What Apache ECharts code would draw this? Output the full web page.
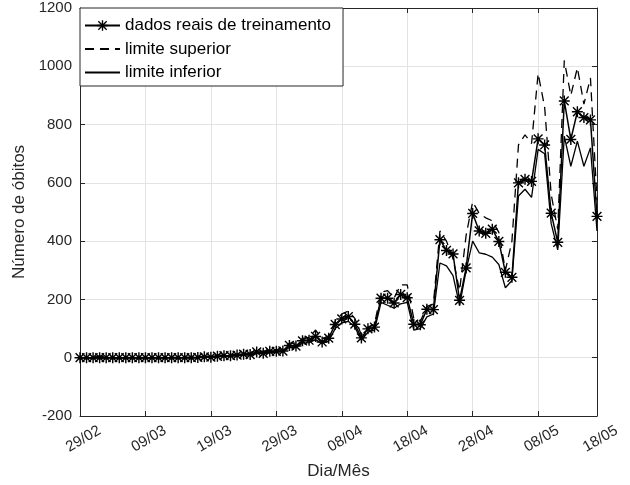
<!DOCTYPE html>
<html>
<head>
<meta charset="utf-8">
<script src="https://cdn.jsdelivr.net/npm/echarts@6/dist/echarts.min.js"></script>
<style>
  html, body { margin: 0; padding: 0; background: #fff; }
  #chart { width: 630px; height: 485px; }
</style>
</head>
<body>
<div id="chart"></div>
<script>
// Day index of each tick on the time axis and the label drawn there
const tickPositions = [0, 10, 20, 30, 40, 50, 60, 70, 79];
const tickLabels = ['29/02', '09/03', '19/03', '29/03', '08/04', '18/04', '28/04', '08/05', '18/05'];

// Daily deaths used for training (one value per day)
const observed = [
  0, 0, 0, 0, 0, 0, 0, 0, 0, 0, 0, 0, 0, 0, 0, 0, 0, 0,
  1, 3, 2, 5, 7, 7, 9, 12, 11, 20, 15, 22, 22, 23, 42, 40, 58, 60, 73, 54,
  67, 114, 133, 141, 115, 68, 99, 105, 204, 204, 188, 217, 206, 115, 113, 166, 165, 405, 368, 356,
  197, 308, 495, 435, 427, 441, 399, 293, 276, 600, 612, 605, 751, 730, 496, 396, 881, 749, 844, 824, 816, 485
];

// Upper limit of the model band
const upperBound = [
  0, 1, 2, 6, 3, 1, 0, 1, 0, 1, 0, 0, 1, 0, 1, 1, 2, 2,
  3, 5, 5, 8, 10, 10, 12, 15, 16, 24, 22, 27, 28, 30, 50, 50, 66, 70, 95, 65,
  75, 125, 150, 160, 135, 78, 105, 115, 225, 230, 205, 250, 250, 135, 125, 175, 185, 435, 400, 340,
  230, 420, 535, 495, 480, 470, 430, 300, 400, 730, 765, 735, 975, 860, 560, 440, 1020, 900, 995, 870, 960, 540
];

// Lower limit of the model band
const lowerBound = [
  0, -1, 0, -2, 0, 0, -1, 0, 0, 0, -1, 0, 0, 0, 0, 0, 0, 0,
  0, 2, 1, 3, 5, 5, 7, 9, 9, 16, 13, 18, 18, 20, 35, 35, 50, 52, 62, 48,
  58, 100, 120, 125, 105, 60, 88, 95, 190, 180, 170, 185, 190, 95, 100, 140, 150, 325, 315, 282,
  180, 300, 400, 360, 355, 345, 320, 240, 265, 555, 578, 550, 715, 700, 460, 370, 760, 657, 743, 657, 720, 435
];

const seriesNames = ['dados reais de treinamento', 'limite superior', 'limite inferior'];

const FONT = "'Liberation Sans', Arial, Helvetica, sans-serif";
const INK = '#262626';

// Eight-armed asterisk marker built from four thin bars
const ASTERISK = 'path://M8.7,0L11.3,0L11.3,20L8.7,20Z' +
  'M0,8.7L20,8.7L20,11.3L0,11.3Z' +
  'M2.9,1.1L18.9,17.1L17.1,18.9L1.1,2.9Z' +
  'M17.1,1.1L18.9,2.9L2.9,18.9L1.1,17.1Z';

const toPairs = arr => arr.map((v, i) => [i, v]);

const chart = echarts.init(document.getElementById('chart'), null, { renderer: 'canvas' });

const xMin = tickPositions[0];
const xMax = tickPositions[tickPositions.length - 1];

chart.setOption({
  animation: false,
  backgroundColor: '#fff',
  textStyle: { fontFamily: FONT },
  grid: { left: 80, right: 33, top: 8, bottom: 67, containLabel: false },
  legend: {
    data: [
      { name: seriesNames[0] },
      { name: seriesNames[1], itemStyle: { opacity: 0 } },
      { name: seriesNames[2], itemStyle: { opacity: 0 } }
    ],
    orient: 'vertical',
    left: 80,
    top: 8,
    padding: [9, 12, 5, 4],
    itemWidth: 35,
    itemHeight: 13,
    itemGap: 6.5,
    backgroundColor: '#fff',
    borderColor: INK,
    borderWidth: 1,
    borderRadius: 0,
    textStyle: { fontSize: 17, color: '#000', fontFamily: FONT }
  },
  xAxis: [
    {
      type: 'value',
      min: xMin,
      max: xMax,
      interval: 10,
      name: 'Dia/Mês',
      nameLocation: 'middle',
      nameGap: 47,
      nameTextStyle: { fontSize: 17, color: INK, fontFamily: FONT },
      axisLine: { show: true, onZero: false, lineStyle: { color: INK, width: 1 } },
      axisTick: { show: true, inside: true, length: 5, lineStyle: { color: INK } },
      axisLabel: {
        rotate: 30,
        margin: 25,
        align: 'center',
        verticalAlign: 'middle',
        padding: [0, 0, 0, 8],
        fontSize: 15,
        color: INK,
        fontFamily: FONT,
        formatter: v => {
          const k = tickPositions.indexOf(Math.round(v));
          return k >= 0 ? tickLabels[k] : '';
        }
      },
      splitLine: { show: true, lineStyle: { color: '#e3e3e3', width: 1 } }
    },
    {
      type: 'value',
      position: 'top',
      min: xMin,
      max: xMax,
      interval: 10,
      axisLine: { show: true, onZero: false, lineStyle: { color: INK, width: 1 } },
      axisTick: { show: true, inside: true, length: 5, lineStyle: { color: INK } },
      axisLabel: { show: false },
      splitLine: { show: false }
    }
  ],
  yAxis: [
    {
      type: 'value',
      min: -200,
      max: 1200,
      interval: 200,
      name: 'Número de óbitos',
      nameLocation: 'middle',
      nameGap: 37,
      nameTextStyle: { fontSize: 17, color: INK, fontFamily: FONT },
      axisLine: { show: true, onZero: false, lineStyle: { color: INK, width: 1 } },
      axisTick: { show: true, inside: true, length: 5, lineStyle: { color: INK } },
      axisLabel: { margin: 8, fontSize: 15, color: INK, fontFamily: FONT, formatter: v => String(v) },
      splitLine: { show: true, lineStyle: { color: '#e3e3e3', width: 1 } }
    },
    {
      type: 'value',
      position: 'right',
      min: -200,
      max: 1200,
      interval: 200,
      axisLine: { show: true, onZero: false, lineStyle: { color: INK, width: 1 } },
      axisTick: { show: true, inside: true, length: 5, lineStyle: { color: INK } },
      axisLabel: { show: false },
      splitLine: { show: false }
    }
  ],
  series: [
    {
      name: seriesNames[0],
      type: 'line',
      data: toPairs(observed),
      z: 5,
      symbol: ASTERISK,
      symbolSize: 11,
      showSymbol: true,
      showAllSymbol: true,
      itemStyle: { color: '#000' },
      lineStyle: { color: '#000', width: 1.5 },
      emphasis: { disabled: true }
    },
    {
      name: seriesNames[1],
      type: 'line',
      data: toPairs(upperBound),
      z: 3,
      symbol: 'none',
      itemStyle: { color: '#000' },
      lineStyle: { color: '#000', width: 1.3, type: [9, 6] },
      emphasis: { disabled: true }
    },
    {
      name: seriesNames[2],
      type: 'line',
      data: toPairs(lowerBound),
      z: 3,
      symbol: 'none',
      itemStyle: { color: '#000' },
      lineStyle: { color: '#000', width: 1.3 },
      emphasis: { disabled: true }
    }
  ]
});
</script>
</body>
</html>
